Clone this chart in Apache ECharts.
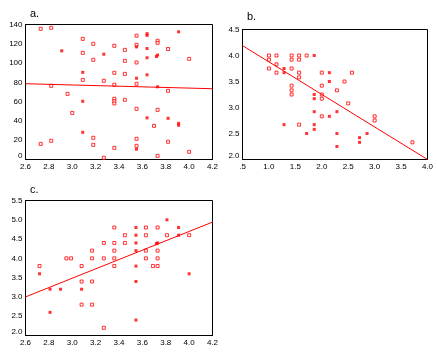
<!DOCTYPE html>
<html>
<head>
<meta charset="utf-8">
<script src="https://cdn.jsdelivr.net/npm/echarts@6/dist/echarts.min.js"></script>
<style>
  html, body { margin: 0; padding: 0; background: #fff; }
  #chart { width: 437px; height: 352px; }
</style>
</head>
<body>
<div id="chart"></div>
<script>
// panel a: open markers and filled (overlapping) markers
var aOpen = [
  [2.73, 135.5], [2.82, 136.6], [2.82, 76.4], [2.96, 68.1], [3.00, 48.3], [2.73, 16.2], [2.82, 19.4],
  [3.09, 125.1], [3.09, 110.6], [3.09, 82.6],
  [3.18, 120], [3.18, 103.4], [3.18, 22.5], [3.18, 15.2],
  [3.27, 81.6], [3.27, 1.8],
  [3.36, 117.9], [3.36, 89.9], [3.36, 77.5], [3.36, 63], [3.36, 60.5], [3.36, 58.1], [3.36, 12.1],
  [3.45, 113.7], [3.45, 102.3], [3.45, 88.8], [3.45, 61.9],
  [3.55, 128.4], [3.55, 118.9], [3.55, 100.6], [3.55, 78.5], [3.55, 52.6], [3.55, 21.5], [3.55, 14.2],
  [3.70, 34.9], [3.73, 123.1], [3.73, 121], [3.73, 51.5], [3.73, 3.8],
  [3.82, 114.6], [3.82, 71.2], [3.82, 18.4],
  [4.00, 104.4], [4.00, 8]
];
var aFill = [
  [2.91, 112.7], [3.09, 90.4], [3.09, 60.4], [3.09, 28.2], [3.27, 109.2],
  [3.55, 116.8], [3.55, 84.3], [3.55, 10.7],
  [3.64, 130.5], [3.64, 128.7], [3.64, 115.1], [3.64, 105.5], [3.64, 87.8], [3.64, 43.2],
  [3.73, 108.3], [3.72, 106.8], [3.73, 75.4], [3.82, 42.7], [3.91, 132.4], [3.91, 37.5], [3.91, 35.5]
];
var aFit = [[2.6, 78.6], [4.2, 73.4]];

// panel b
var bOpen = [
  [1.0, 4.0], [1.0, 3.92], [1.0, 3.75],
  [1.143, 4.0], [1.143, 3.83], [1.143, 3.67],
  [1.429, 4.0], [1.429, 3.92], [1.429, 3.75], [1.429, 3.42], [1.429, 3.33], [1.429, 3.25],
  [1.571, 4.0], [1.571, 3.92], [1.571, 3.67], [1.571, 3.58], [1.571, 2.67],
  [1.714, 4.0],
  [2.0, 3.67], [2.0, 3.42], [2.0, 3.25], [2.0, 3.17], [2.0, 2.83],
  [2.286, 3.33], [2.429, 3.5], [2.5, 3.08], [2.571, 3.67],
  [3.0, 2.83], [3.0, 2.75], [3.714, 2.33]
];
var bFill = [
  [1.286, 3.75], [1.286, 3.67], [1.286, 2.67],
  [1.714, 2.5],
  [1.857, 4.0], [1.857, 3.25], [1.857, 3.17], [1.857, 2.92], [1.857, 2.67], [1.857, 2.58],
  [2.143, 3.67], [2.143, 3.5], [2.143, 2.83],
  [2.286, 2.92], [2.286, 2.5], [2.286, 2.25],
  [2.714, 2.42], [2.714, 2.33], [2.857, 2.5]
];
var bFit = [[0.5, 4.19], [4.0, 2.0]];

// panel c
var cOpen = [
  [2.72, 3.8], [2.95, 4.0], [2.99, 4.0],
  [3.08, 3.8], [3.08, 3.4], [3.08, 2.8],
  [3.17, 4.2], [3.17, 4.0], [3.17, 3.4], [3.17, 2.8],
  [3.27, 4.4], [3.27, 4.0], [3.27, 2.2],
  [3.36, 4.8], [3.36, 4.4], [3.36, 4.2], [3.36, 4.0], [3.36, 3.8],
  [3.45, 4.6], [3.45, 4.4],
  [3.63, 4.8], [3.63, 4.6], [3.63, 4.2], [3.63, 4.0],
  [3.69, 3.8],
  [3.73, 4.8], [3.73, 4.2], [3.73, 4.0], [3.73, 3.8],
  [3.81, 4.6], [4.0, 4.6]
];
var cFill = [
  [2.72, 3.6], [2.81, 3.2], [2.81, 2.6], [2.90, 3.2], [3.08, 3.2],
  [3.545, 4.8], [3.545, 4.6], [3.545, 4.4], [3.545, 4.2], [3.545, 3.8], [3.545, 3.4], [3.545, 2.4],
  [3.73, 4.4], [3.72, 4.38], [3.81, 5.0], [3.91, 4.8], [3.91, 4.6], [4.0, 3.6]
];
var cFit = [[2.6, 3.0], [4.2, 4.94]];

var titles = ['a.', 'b.', 'c.'];

var font = 'Liberation Sans';
var red = '#ff0000';

function gridBox(left, top, w, h) {
  return { left: left, top: top, width: w, height: h, show: true, borderColor: '#000', borderWidth: 1, containLabel: false };
}

function axis(idx, min, max, step, fmt) {
  return {
    type: 'value', gridIndex: idx, min: min, max: max, interval: step,
    axisLine: { show: true, onZero: false, lineStyle: { color: '#000', width: 1 } },
    axisTick: { show: false },
    splitLine: { show: false },
    axisLabel: {
      color: '#000', fontFamily: font, fontSize: 8, margin: 3,
      showMinLabel: true, showMaxLabel: true, formatter: fmt,
      rich: { lo: { fontFamily: font, fontSize: 8, color: '#000', padding: [0, 0, 8, 0] } }
    }
  };
}

function oneDec(v) { return v.toFixed(1); }
function bLab(v) { var s = v.toFixed(1); return s.charAt(0) === '0' ? s.slice(1) : s; }
// lowest y label sits a little above the axis line
function yLow(min, f) {
  return function (v) { var s = f(v); return Math.abs(v - min) < 1e-9 ? '{lo|' + s + '}' : s; };
}
function intLab(v) { return String(Math.round(v)); }

function openSeries(idx, data) {
  return {
    type: 'scatter', xAxisIndex: idx, yAxisIndex: idx, data: data,
    symbol: 'rect', symbolSize: 3,
    itemStyle: { color: '#fff', borderColor: red, borderWidth: 1 }
  };
}
function fillSeries(idx, data) {
  return {
    type: 'scatter', xAxisIndex: idx, yAxisIndex: idx, data: data,
    symbol: 'rect', symbolSize: 3,
    itemStyle: { color: red }
  };
}
function fitSeries(idx, data) {
  return {
    type: 'line', xAxisIndex: idx, yAxisIndex: idx, data: data,
    showSymbol: false, symbol: 'none',
    lineStyle: { color: red, width: 1 }
  };
}

var chart = echarts.init(document.getElementById('chart'), null, { renderer: 'canvas' });

var tStyle = { fontFamily: font, fontSize: 11, fontWeight: 'normal', color: '#000' };

chart.setOption({
  animation: false,
  backgroundColor: '#fff',
  title: [
    { text: titles[0], left: 25, top: 3, textStyle: tStyle },
    { text: titles[1], left: 242, top: 6, textStyle: tStyle },
    { text: titles[2], left: 25, top: 179, textStyle: tStyle }
  ],
  grid: [
    gridBox(25.5, 24.5, 187, 135),
    gridBox(242.5, 29.5, 185, 130),
    gridBox(25.5, 200.5, 187, 135)
  ],
  xAxis: [
    axis(0, 2.6, 4.2, 0.2, oneDec),
    axis(1, 0.5, 4.0, 0.5, bLab),
    axis(2, 2.6, 4.2, 0.2, oneDec)
  ],
  yAxis: [
    axis(0, 0, 140, 20, yLow(0, intLab)),
    axis(1, 2.0, 4.5, 0.5, yLow(2.0, oneDec)),
    axis(2, 2.0, 5.5, 0.5, yLow(2.0, oneDec))
  ],
  series: [
    fitSeries(0, aFit), openSeries(0, aOpen), fillSeries(0, aFill),
    fitSeries(1, bFit), openSeries(1, bOpen), fillSeries(1, bFill),
    fitSeries(2, cFit), openSeries(2, cOpen), fillSeries(2, cFill)
  ]
});
</script>
</body>
</html>
